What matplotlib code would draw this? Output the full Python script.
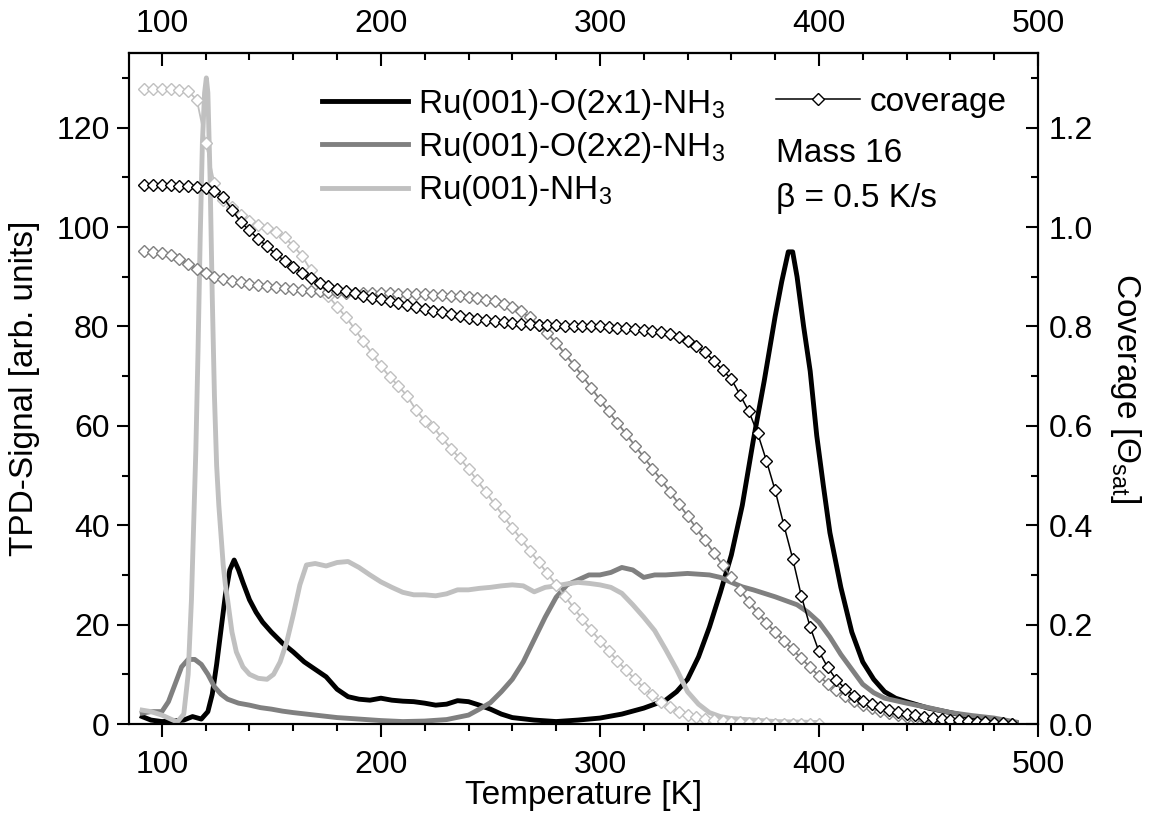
import matplotlib
matplotlib.use("Agg")
import matplotlib.pyplot as plt
import numpy as np

plt.rcParams['font.family'] = ['Liberation Sans', 'DejaVu Sans']
plt.rcParams['mathtext.fontset'] = 'custom'
plt.rcParams['mathtext.rm'] = 'Liberation Sans'
plt.rcParams['mathtext.it'] = 'Liberation Sans:italic'
plt.rcParams['mathtext.bf'] = 'Liberation Sans:bold'

# TPD signal, Ru(001)-O(2x1)-NH3
t_21 = [91, 95, 100, 105, 110, 114, 118, 121, 123, 125, 127, 129, 131, 133, 135, 137, 140, 143, 146, 150,
        155, 160, 165, 170, 175, 180, 185, 190, 195, 200, 205, 210, 215, 220, 225, 230, 235, 240, 245, 250,
        255, 260, 270, 280, 290, 300, 310, 320, 330, 335, 340, 345, 350, 355, 360, 365, 370, 375, 380, 383,
        386, 388, 390, 393, 396, 399, 402, 405, 410, 415, 420, 425, 430, 435, 440, 450, 460, 470, 480, 490]
s_21 = [1.5, 0.8, 0.5, 0.6, 0.8, 1.5, 1.0, 2.5, 6, 12, 19, 26, 31, 33, 31, 28.5, 25, 22.5, 20.5, 18.5,
        16.3, 14.5, 12.5, 11, 9.5, 7, 5.5, 5, 4.8, 5.2, 4.8, 4.6, 4.5, 4.2, 3.8, 4, 4.7, 4.5, 3.8, 3,
        2, 1.3, 0.8, 0.5, 0.8, 1.2, 2, 3.2, 4.8, 6.5, 9, 13.5, 19.5, 26.5, 34, 44, 57, 69, 82, 89,
        95, 95, 90, 80, 71, 58, 48, 38.5, 27.5, 18.5, 12.5, 9, 6.5, 5.2, 4.5, 3.2, 2.3, 1.4, 0.9, 0.3]

# TPD signal, Ru(001)-O(2x2)-NH3
t_22 = [91, 95, 100, 103, 106, 109, 112, 115, 118, 121, 124, 127, 130, 135, 140, 145, 150, 155, 160, 170,
        180, 190, 200, 210, 220, 230, 240, 245, 250, 255, 260, 265, 270, 275, 280, 285, 290, 295, 300, 305,
        310, 315, 320, 325, 330, 340, 350, 355, 360, 365, 370, 375, 380, 385, 390, 395, 400, 405, 410, 415,
        420, 425, 430, 440, 450, 460, 470, 480, 490]
s_22 = [2.2, 2.5, 2.5, 4.5, 8, 11.5, 13, 13, 12, 10, 7.5, 6, 5, 4.2, 3.8, 3.3, 3, 2.6, 2.3, 1.8,
        1.3, 1, 0.7, 0.5, 0.6, 0.9, 1.8, 3, 4.3, 6.5, 9, 12.5, 17, 21.5, 25.5, 28, 29, 30, 30, 30.5,
        31.5, 31, 29.5, 30, 30, 30.3, 30, 29.5, 28.5, 27.6, 27, 26.3, 25.6, 24.8, 24, 22.5, 20.5, 17.5, 14, 11,
        8, 6.3, 5.2, 4.2, 3.3, 2.3, 1.7, 1.2, 0.4]

# TPD signal, Ru(001)-NH3
t_nh3 = [91, 95, 100, 104, 107, 110, 112, 113.5, 114.5, 115.5, 116.5, 117.5, 118.5, 119.5, 120.3, 121, 122,
         123, 124, 125, 126, 128, 129, 130, 132, 134, 137, 140, 144, 148, 151, 154, 157, 160, 163, 166,
         170, 175, 180, 185, 190, 195, 200, 205, 210, 215, 220, 225, 230, 235, 240, 245, 250, 255, 260,
         265, 270, 275, 280, 285, 290, 295, 300, 305, 310, 315, 320, 325, 330, 335, 340, 345, 350, 355,
         360, 370, 380, 390, 400]
s_nh3 = [2.8, 2.5, 1.8, 1, 0.4, 2, 10, 25, 40, 55, 75, 98, 117, 127, 130, 127, 110,
         86, 66, 52, 44, 32, 28, 25, 18.5, 14.5, 11.5, 10, 9.2, 9, 10, 12.5, 16.5, 22, 28, 32,
         32.3, 31.8, 32.5, 32.7, 31.5, 30, 28.6, 27.5, 26.5, 26, 26, 25.8, 26.2, 27, 27, 27.3, 27.5, 27.8, 28,
         27.8, 26.6, 27.5, 27.8, 28.2, 28.5, 28.3, 28, 27.5, 26.3, 24, 21.5, 18.8, 15, 11, 6.5, 4, 2.3, 1.5,
         1.1, 0.8, 0.5, 0.4, 0.3]

# coverage (right axis), sampled every 4 K
t_cov = np.arange(92, 492, 4)
cov_21 = [1.085, 1.085, 1.085, 1.084, 1.083, 1.082, 1.081, 1.079, 1.072, 1.06, 1.035, 1.01, 0.993, 0.976, 0.961,
          0.946, 0.932, 0.92, 0.908, 0.897, 0.888, 0.881, 0.876, 0.872, 0.867, 0.862, 0.858, 0.855, 0.851, 0.847,
          0.844, 0.84, 0.836, 0.832, 0.828, 0.824, 0.82, 0.817, 0.814, 0.812, 0.81, 0.808, 0.806, 0.805, 0.804,
          0.803, 0.802, 0.802, 0.801, 0.801, 0.800, 0.800, 0.800, 0.799, 0.797, 0.796, 0.795, 0.793, 0.791, 0.789,
          0.785, 0.778, 0.77, 0.761, 0.748, 0.731, 0.712, 0.694, 0.662, 0.629, 0.585, 0.53, 0.47, 0.4, 0.333,
          0.257, 0.195, 0.146, 0.114, 0.089, 0.071, 0.057, 0.047, 0.04, 0.034, 0.029, 0.025, 0.021, 0.018, 0.015,
          0.013, 0.011, 0.009, 0.008, 0.007, 0.005, 0.004, 0.003, 0.002, 0.001]
cov_22 = [0.951, 0.95, 0.948, 0.944, 0.935, 0.925, 0.915, 0.907, 0.90, 0.896, 0.892, 0.889, 0.886, 0.883, 0.881,
          0.879, 0.877, 0.875, 0.873, 0.872, 0.871, 0.87, 0.869, 0.868, 0.868, 0.867, 0.867, 0.867, 0.867, 0.866,
          0.866, 0.866, 0.865, 0.864, 0.863, 0.862, 0.861, 0.859, 0.857, 0.854, 0.851, 0.846, 0.84, 0.83, 0.818,
          0.803, 0.786, 0.767, 0.745, 0.723, 0.70, 0.677, 0.652, 0.629, 0.606, 0.583, 0.56, 0.537, 0.514, 0.491,
          0.467, 0.443, 0.419, 0.394, 0.37, 0.345, 0.32, 0.295, 0.27, 0.246, 0.224, 0.204, 0.185, 0.167, 0.15,
          0.132, 0.114, 0.097, 0.081, 0.068, 0.057, 0.047, 0.039, 0.032, 0.027, 0.022, 0.018, 0.015, 0.012, 0.01,
          0.008, 0.007, 0.006, 0.005, 0.004, 0.003, 0.003, 0.002, 0.001, 0.0]
cov_nh3 = [1.278, 1.278, 1.278, 1.277, 1.276, 1.274, 1.255, 1.17, 1.088, 1.055, 1.04, 1.025, 1.012, 1.004, 0.998,
           0.99, 0.979, 0.962, 0.942, 0.913, 0.886, 0.861, 0.84, 0.819, 0.795, 0.77, 0.745, 0.72, 0.699, 0.68,
           0.66, 0.632, 0.61, 0.597, 0.575, 0.554, 0.535, 0.513, 0.49, 0.466, 0.442, 0.418, 0.395, 0.372, 0.349,
           0.326, 0.303, 0.28, 0.257, 0.234, 0.211, 0.189, 0.168, 0.147, 0.127, 0.108, 0.09, 0.073, 0.058, 0.045,
           0.034, 0.025, 0.019, 0.014, 0.011, 0.008, 0.006, 0.005, 0.004, 0.003, 0.002, 0.002, 0.001, 0.001, 0.001,
           0.0, 0.0, 0.0]

czarny, ciemny, jasny = '#000000', '#808080', '#c0c0c0'
rozmiar = 23

fig = plt.figure(figsize=(11.51, 8.16), dpi=100)
ax = fig.add_axes([0.1121, 0.1127, 0.7897, 0.8223])

l1, = ax.plot(t_21, s_21, color=czarny, lw=3.5, label='Ru(001)-O(2x1)-NH$_3$')
l2, = ax.plot(t_22, s_22, color=ciemny, lw=3.5, label='Ru(001)-O(2x2)-NH$_3$')
l3, = ax.plot(t_nh3, s_nh3, color=jasny, lw=3.5, label='Ru(001)-NH$_3$')

ax.set_xlim(85, 500)
ax.set_ylim(0, 135)
ax.set_xticks(range(100, 501, 100))
ax.set_xticks(range(100, 500, 20), minor=True)
ax.set_yticks(range(0, 121, 20))
ax.set_yticks(range(10, 135, 20), minor=True)
ax.tick_params(which='both', direction='out', width=1.5, labelsize=rozmiar, pad=5)
ax.tick_params(axis='x', pad=10)
ax.tick_params(which='major', length=9)
ax.tick_params(which='minor', length=5)
ax.tick_params(right=False, top=False)
ax.set_xlabel('Temperature [K]', fontsize=24, labelpad=0)
ax.set_ylabel('TPD-Signal [arb. units]', fontsize=24, labelpad=12)
for s in ax.spines.values():
    s.set_linewidth(1.5)

# górna oś temperatury (kreski do środka)
top = ax.secondary_xaxis('top')
top.set_xticks(range(100, 501, 100))
top.set_xticks(range(100, 500, 20), minor=True)
top.tick_params(which='both', direction='in', width=1.5, labelsize=rozmiar, pad=10)
top.tick_params(which='major', length=9)
top.tick_params(which='minor', length=5)
top.spines['top'].set_linewidth(1.5)

# prawa oś - pokrycie
ax2 = ax.twinx()
ax2.set_ylim(0, 1.35)
ax2.set_yticks(np.arange(0, 1.21, 0.2))
ax2.set_yticks(np.arange(0.1, 1.35, 0.2), minor=True)
ax2.yaxis.set_major_formatter(matplotlib.ticker.FormatStrFormatter('%.1f'))
ax2.tick_params(which='both', direction='in', width=1.5, labelsize=rozmiar, pad=8)
ax2.tick_params(which='major', length=9)
ax2.tick_params(which='minor', length=5)
ax2.set_ylabel('Coverage [$\\Theta_{\\mathrm{sat}}$]', fontsize=24, rotation=-90, labelpad=36)
for s in ax2.spines.values():
    s.set_linewidth(1.5)

mk = dict(marker='D', ms=6.5, mfc='white', mew=1.0)
ax2.plot(t_cov[:len(cov_nh3)], cov_nh3, color=jasny, mec=jasny, lw=1.3, **mk)
ax2.plot(t_cov, cov_22, color=ciemny, mec=ciemny, lw=1.3, **mk)
lc, = ax2.plot(t_cov, cov_21, color=czarny, mec=czarny, lw=1.1, label='coverage', **mk)

leg1 = ax2.legend(handles=[l1, l2, l3], loc='upper left', bbox_to_anchor=(0.212, 0.95),
                  frameon=False, fontsize=24, handlelength=2.6, handletextpad=0.3,
                  labelspacing=0.25, borderpad=0, borderaxespad=0)
ax2.add_artist(leg1)
ax2.legend(handles=[lc], loc='upper left', bbox_to_anchor=(0.712, 0.95), frameon=False,
           fontsize=24, handlelength=2.5, handletextpad=0.3, borderpad=0, borderaxespad=0,
           numpoints=1, markerscale=1.0)

ax2.text(0.712, 0.8500, 'Mass 16', transform=ax2.transAxes, fontsize=24, va='center', ha='left')
ax2.text(0.712, 0.7830, 'β = 0.5 K/s', transform=ax2.transAxes, fontsize=24, va='center', ha='left')

fig.savefig('out.png', dpi=100)
